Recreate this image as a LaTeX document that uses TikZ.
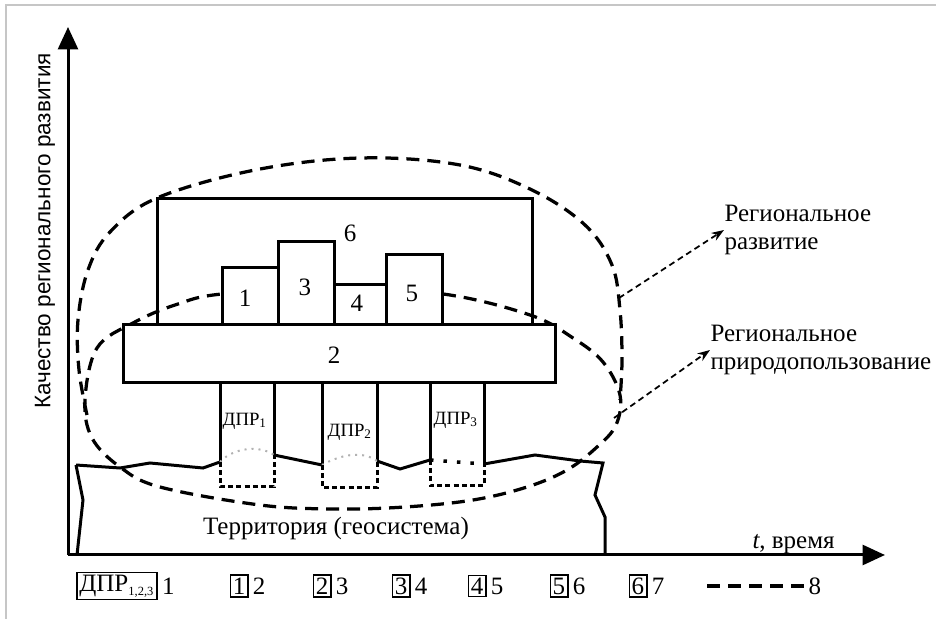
\documentclass[tikz,border=0pt]{standalone}
\usepackage{fontspec}
\setmainfont{Liberation Serif}
\setsansfont{Liberation Sans}
\usetikzlibrary{arrows.meta,positioning}

\begin{document}
\begin{tikzpicture}[x=0.4pt, y=-0.4pt,
    every node/.style={font=\fontsize{10}{11}\selectfont, inner sep=0pt},
    solidline/.style={line width=1.2pt},
    bigdash/.style={line width=1.3pt, dash pattern=on 5.2pt off 3.2pt},
    smalldash/.style={line width=1.2pt, dash pattern=on 2pt off 1.3pt},
    pointer/.style={line width=0.7pt, dash pattern=on 2.4pt off 1.6pt, -{Stealth[length=5pt, width=3.6pt]}},
    legbox/.style={draw, line width=0.6pt, inner sep=1pt},
    axis/.style={line width=1.2pt, -{Triangle[length=9pt, width=8pt]}}]

    \useasboundingbox (0,0) rectangle (936,619);
    \draw[gray!45, line width=0.8pt] (6,619) -- (6,5) -- (936,5); % thin frame of the figure

    % Axes
    \coordinate (O) at (68,555);
    \coordinate (Ytop) at (68,27);
    \coordinate (Xend) at (885,555);
    \draw[axis] (O) -- (Ytop);
    \draw[axis] (O) -- (Xend);
    \node[font=\sffamily\fontsize{9}{10}\selectfont, rotate=90] (ylab) at (45,231) {Качество регионального развития};
    \node[anchor=base west] (xlab) at (752,549) {\textit{t}, время};

    % Block 6 (behind everything)
    \draw[solidline, fill=white] (157,199) rectangle (532,325);
    \node (L6) at (350,233) {6};

    % Dashed outlines: nature use (closed) and regional development (outer arc)
    \draw[bigdash] plot[smooth cycle, tension=0.6] coordinates {
        (335,289) (443,294) (530,315) (573,338) (603,362) (620,395) (616,425)
        (597,447) (567,470) (527,487) (473,500) (405,507) (335,509) (260,505)
        (160,487) (120,467) (92,438) (85,400) (97,348) (133,323) (175,305) (222,294)};
    \draw[bigdash] plot[smooth, tension=0.6] coordinates {
        (87,415) (79,370) (78,320) (88,270) (110,232) (157,198) (255,170)
        (360,158) (460,165) (532,190) (585,225) (612,265) (620,310) (622,360) (620,400)};

    % Blocks 1,3,4,5 and 2
    \draw[solidline, fill=white] (222,268) rectangle (278,325);
    \draw[solidline, fill=white] (278,242) rectangle (334,325);
    \draw[solidline, fill=white] (334,285) rectangle (386,325);
    \draw[solidline, fill=white] (386,255) rectangle (442,325);
    \node (L1) at (245,298) {1};
    \node (L3) at (305,287) {3};
    \node (L4) at (357,303) {4};
    \node (L5) at (412,293) {5};
    \draw[solidline, fill=white] (123,325) rectangle (555,383);
    \node (L2) at (334,355) {2};

    % Bottom ends of the three columns
    \coordinate (P1l) at (220,462);
    \coordinate (P1r) at (274,455);
    \coordinate (P2l) at (322,465);
    \coordinate (P2r) at (377,461);
    \coordinate (P3l) at (430,460);
    \coordinate (P3r) at (484,464);

    % Columns
    \foreach \p in {P1l,P1r,P2l,P2r,P3l,P3r}
        \draw[solidline] (\p |- 0,383) -- (\p);
    \node[font=\fontsize{7.5}{8}\selectfont] (D1) at (245,421) {ДПР\textsubscript{1}};
    \node[font=\fontsize{7.5}{8}\selectfont] (D2) at (350,432) {ДПР\textsubscript{2}};
    \node[font=\fontsize{7.5}{8}\selectfont] (D3) at (456,420) {ДПР\textsubscript{3}};

    % Territory (ground line and edges)
    \draw[solidline] (76,465) -- (120,468) -- (150,463) -- (203,468) -- (P1l);
    \draw[solidline] (P1r) -- (P2l);
    \draw[solidline] (P2r) -- (400,469) -- (P3l);
    \draw[solidline] (P3r) -- (535,455) -- (580,461) -- (603,463) -- (595,495) -- (605,517) -- (605,555);
    \draw[solidline] (76,465) -- (83,500) -- (77,555);
    \node[anchor=base] (terr) at (336,535) {Территория (геосистема)};

    % Dotted tops and dashed roots of the columns
    \draw[gray!60, line width=0.8pt, dash pattern=on 0.8pt off 2pt] (P1l) .. controls (235,446) and (262,446) .. (P1r);
    \draw[gray!60, line width=0.8pt, dash pattern=on 0.8pt off 2pt] (P2l) .. controls (340,455) and (362,450) .. (P2r);
    \draw[line width=1.4pt, dash pattern=on 1.4pt off 4pt] (P3l) -- (P3r);
    \draw[smalldash] (P1l) -- (220,487) -- (274,487) -- (P1r);
    \draw[smalldash] (P2l) -- (322,488) -- (377,488) -- (P2r);
    \draw[smalldash] (P3l) -- (430,486) -- (484,486) -- (P3r);

    % Labels with pointers
    \node[anchor=west, align=left] (lblA) at (724,230) {Региональное\\развитие};
    \node[anchor=west, align=left] (lblB) at (710,350) {Региональное\\природопользование};
    \coordinate (a1) at (619,298);
    \coordinate (a2) at (614,418);
    \draw[pointer] (a1) -- (lblA.west);
    \draw[pointer] (a2) -- (lblB.west);

    % Legend
    \node[legbox, minimum height=10pt] (K0) at (117,586) {ДПР\textsubscript{\tiny 1,2,3}};
    \node[right=1.5pt of K0] (N1) {1};
    \foreach \k/\cx in {1/239, 2/322, 3/401, 4/477, 5/559, 6/638} {
        \node[legbox] (K\k) at (\cx,586) {\k};
        \pgfmathtruncatemacro\nn{\k+1}
        \node[right=1.5pt of K\k] (N\nn) {\nn};
    }
    \coordinate (d0) at (707,586);
    \coordinate (d1) at (806,586);
    \draw[bigdash] (d0) -- (d1);
    \node[anchor=west] (N8) at (808,586) {8};

\end{tikzpicture}
\end{document}
